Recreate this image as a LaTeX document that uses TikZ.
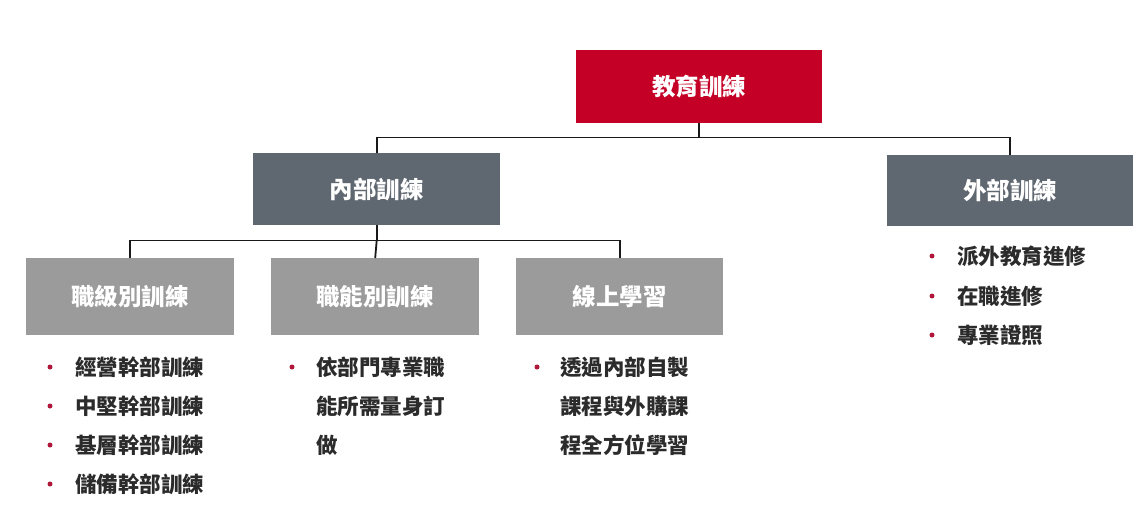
\documentclass[tikz,border=0pt]{standalone}
\usepackage{fontspec}
\newfontfamily\cjk{Noto Sans CJK TC}
\definecolor{topred}{HTML}{C40026}
\definecolor{darkg}{HTML}{5F6770}
\definecolor{lightg}{HTML}{9B9B9B}
\definecolor{bul}{HTML}{B0173A}
\definecolor{txt}{HTML}{2B2B2B}
\begin{document}
\begin{tikzpicture}[x=1pt,y=-1pt,
  box/.style={anchor=north west,inner sep=0pt,text=white,font=\cjk\fontsize{23.5}{26}\selectfont\bfseries},
  conn/.style={line width=1.8pt,draw=black!90},
  item/.style={anchor=west,inner sep=0pt,text=txt,font=\cjk\fontsize{21.5}{24}\selectfont\bfseries},
  dot/.style={circle,fill=bul,inner sep=0pt,minimum size=5pt}]
\useasboundingbox (0,0) rectangle (1146,525);
\node[box,fill=topred,minimum width=246pt,minimum height=73pt] (top) at (576,50) {教育訓練};
\node[box,fill=darkg,minimum width=247pt,minimum height=72pt] (int) at (253,153) {內部訓練};
\node[box,fill=darkg,minimum width=246pt,minimum height=71pt] (ext) at (887,155) {外部訓練};
\node[box,fill=lightg,minimum width=208pt,minimum height=77pt] (a) at (26,258) {職級別訓練};
\node[box,fill=lightg,minimum width=208pt,minimum height=77pt] (b) at (271,258) {職能別訓練};
\node[box,fill=lightg,minimum width=207pt,minimum height=77pt] (c) at (516,258) {線上學習};
\coordinate (j1) at ([yshift=-14pt]top.south);
\coordinate (j2) at ([yshift=-15pt]int.south);
\draw[conn] (top.south) -- (j1);
\draw[conn] (int.north) -- (int.north |- j1) -- (ext.north |- j1) -- (ext.north);
\draw[conn] (int.south) -- (j2);
\draw[conn] (a.north) -- (a.north |- j2) -- (c.north |- j2) -- (c.north);
\draw[conn] (j2) -- (b.north);
% column a
\node[dot] (ad1) at (50,367) {}; \node[item] (a1) at (75,367) {經營幹部訓練};
\node[dot] (ad2) at (50,406) {}; \node[item] (a2) at (75,406) {中堅幹部訓練};
\node[dot] (ad3) at (50,445) {}; \node[item] (a3) at (75,445) {基層幹部訓練};
\node[dot] (ad4) at (50,484) {}; \node[item] (a4) at (75,484) {儲備幹部訓練};
% column b
\node[dot] (bd1) at (292,367) {}; \node[item] (b1) at (316,367) {依部門專業職};
\node[item] (b2) at (316,406) {能所需量身訂};
\node[item] (b3) at (316,445) {做};
% column c
\node[dot] (cd1) at (537,367) {}; \node[item] (c1) at (560,367) {透過內部自製};
\node[item] (c2) at (560,406) {課程與外購課};
\node[item] (c3) at (560,445) {程全方位學習};
% external
\node[dot] (ed1) at (932,256) {}; \node[item] (e1) at (957,256) {派外教育進修};
\node[dot] (ed2) at (932,296) {}; \node[item] (e2) at (957,296) {在職進修};
\node[dot] (ed3) at (932,335) {}; \node[item] (e3) at (957,335) {專業證照};
\end{tikzpicture}
\end{document}
